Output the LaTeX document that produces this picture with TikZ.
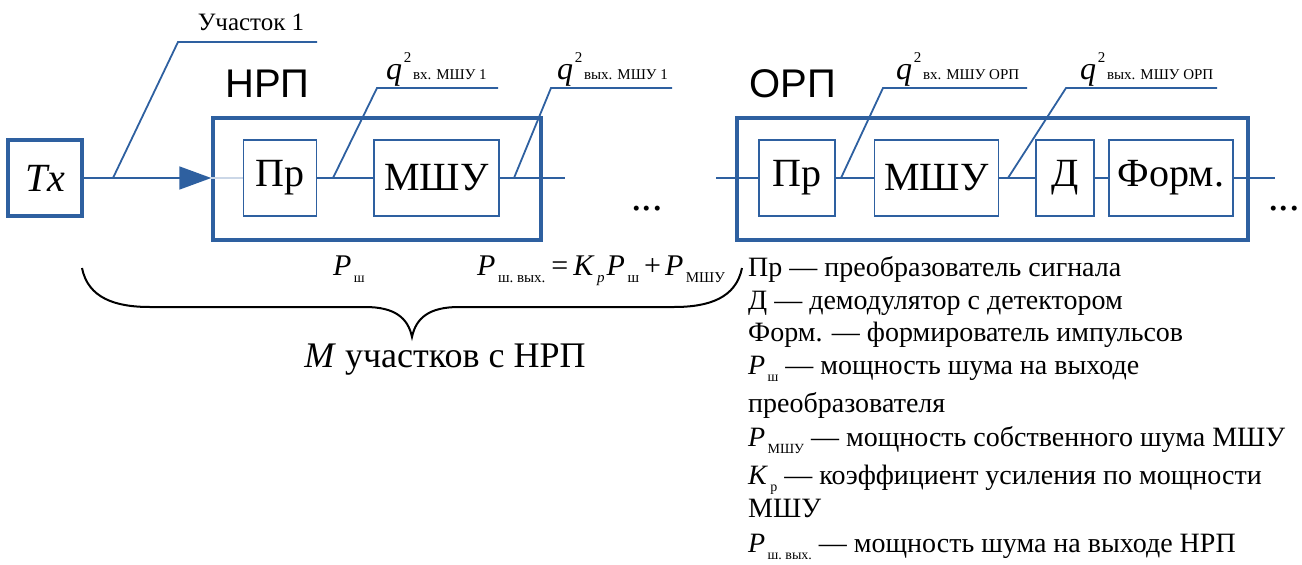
\documentclass[tikz,border=0pt]{standalone}
\usepackage{fontspec}
\setmainfont{Liberation Serif}
\newfontfamily\lserif{Liberation Serif}
\newfontfamily\hsans{Liberation Sans}
\usetikzlibrary{arrows.meta}
\definecolor{bl}{RGB}{46,96,160}
\newcommand{\fsz}[1]{\lserif\fontsize{#1}{#1}\selectfont}
\newcommand{\qlab}[1]{{\fsz{32}\textit{q}}\,\raisebox{17pt}{\fsz{15}2}\,{\fsz{15}#1}}
\newcommand{\Psub}[2]{\textit{#1}\raisebox{-7pt}{\fsz{14}\,#2}}
\newcommand{\Fsub}[2]{\textit{#1}\raisebox{-7pt}{\fsz{15}\,#2}}
\begin{document}
\begin{tikzpicture}[x=1pt,y=-1pt,
  bigbox/.style={draw=bl,line width=3.5pt,inner sep=0pt},
  inbox/.style={draw=bl,line width=1.8pt,inner sep=0pt,minimum height=76pt,font=\fsz{40}},
  wire/.style={draw=bl,line width=1.8pt},
  lbl/.style={inner sep=0pt,anchor=base west},
  dotsty/.style={inner sep=0pt,anchor=base,font=\fsz{42}},
  leg/.style={inner sep=0pt,anchor=base west,font=\fsz{28}}]
\useasboundingbox (0,0) rectangle (1302,565);
% boxes
\node[bigbox,minimum width=74pt,minimum height=76pt,font=\fsz{40}] (tx) at (45,178) {\textit{Tx}};
\node[bigbox,minimum width=328pt,minimum height=122pt] (nrp) at (377,179) {};
\node[inbox,minimum width=73pt] (pr1) at (280,178) {Пр};
\node[inbox,minimum width=125pt] (m1) at (436.5,178) {МШУ};
\node[bigbox,minimum width=511pt,minimum height=122pt] (orp) at (992.5,179) {};
\node[inbox,minimum width=76pt] (pr2) at (797,178) {Пр};
\node[inbox,minimum width=124pt] (m2) at (936.5,178) {МШУ};
\node[inbox,minimum width=58pt] (d) at (1065,178) {Д};
\node[inbox,minimum width=124pt] (f) at (1171,178) {Форм.};
% wires
\coordinate (e1) at (565,178);
\coordinate (s2) at (716,178);
\coordinate (e2) at (1275,178);
\draw[wire,-{Triangle[length=32pt,width=23pt]}] (tx.east) -- (tx.east -| nrp.west);
\draw[draw=bl!25,line width=1.8pt] (tx.east -| nrp.west) -- (pr1.west);
\draw[wire] (pr1.east) -- (m1.west);
\draw[wire] (m1.east) -- (e1);
\draw[wire] (s2) -- (pr2.west);
\draw[wire] (pr2.east) -- (m2.west);
\draw[wire] (m2.east) -- (d.west);
\draw[wire] (d.east) -- (f.west);
\draw[wire] (f.east) -- (e2);
% leaders
\draw[wire] (113,178) -- (178,42) -- (317,42);
\node[inner sep=0pt,font=\fsz{25}] (uch) at (251,22) {Участок 1};
\draw[wire] (333,178) -- (377,88) -- (498,88);
\draw[wire] (514,178) -- (551,88) -- (672,88);
\draw[wire] (841,178) -- (883,88) -- (1027,88);
\draw[wire] (1008,178) -- (1066,88) -- (1217,88);
\node[lbl] (q1) at (386,79) {\qlab{вх. МШУ 1}};
\node[lbl] (q2) at (557,79) {\qlab{вых. МШУ 1}};
\node[lbl] (q3) at (896,79) {\qlab{вх. МШУ ОРП}};
\node[lbl] (q4) at (1080,79) {\qlab{вых. МШУ ОРП}};
% titles
\node[lbl,font=\hsans\fontsize{40}{40}\selectfont] (tn) at (225,97) {НРП};
\node[lbl,font=\hsans\fontsize{40}{40}\selectfont] (to) at (749,97) {ОРП};
% dots
\node[dotsty] (dots1) at (647,210) {...};
\node[dotsty] (dots2) at (1284,210) {...};
% formulas
\node[lbl,font=\fsz{30}] (pw) at (333,275) {\Psub{P}{ш}};
\node[lbl,font=\fsz{30}] (pf) at (477,275) {\Fsub{P}{ш.~вых.}\hspace{6pt}=\hspace{5pt}\Fsub{K}{\textit{p}}\hspace{2pt}\Fsub{P}{ш}\hspace{5pt}+\hspace{4pt}\Fsub{P}{МШУ}};
% brace
\draw[line width=2pt] (82,268) .. controls (88,298) and (115,307) .. (150,307) -- (365,307) .. controls (395,307) and (408,318) .. (412,337)
  .. controls (416,318) and (429,307) .. (459,307) -- (674,307) .. controls (709,307) and (736,298) .. (742,268);
\node[inner sep=0pt,font=\fsz{36}] (mu) at (445,360) {\textit{M} участков с НРП};
% legend
\node[leg] (l1) at (748,276) {Пр — преобразователь сигнала};
\node[leg] (l2) at (748,309) {Д — демодулятор с детектором};
\node[leg] (l3) at (748,341) {Форм. — формирователь импульсов};
\node[leg] (l4) at (748,374) {\Psub{P}{ш} — мощность шума на выходе};
\node[leg] (l5) at (748,412) {преобразователя};
\node[leg] (l6) at (748,446) {\Psub{P}{МШУ} — мощность собственного шума МШУ};
\node[leg] (l7) at (748,484) {\Psub{K}{р} — коэффициент усиления по мощности};
\node[leg] (l8) at (748,517) {МШУ};
\node[leg] (l9) at (748,552) {\Psub{P}{ш.~вых.} — мощность шума на выходе НРП};
\end{tikzpicture}
\end{document}
